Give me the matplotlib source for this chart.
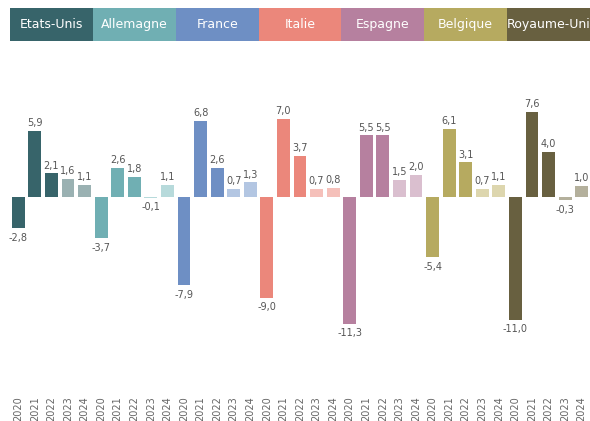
import matplotlib
matplotlib.use("Agg")
import matplotlib.pyplot as plt
from matplotlib.patches import Rectangle
import matplotlib.transforms as mtransforms

countries = ["Etats-Unis", "Allemagne", "France", "Italie", "Espagne", "Belgique", "Royaume-Uni"]
years = ["2020", "2021", "2022", "2023", "2024"]
values = {
    "Etats-Unis": [-2.8, 5.9, 2.1, 1.6, 1.1],
    "Allemagne": [-3.7, 2.6, 1.8, -0.1, 1.1],
    "France": [-7.9, 6.8, 2.6, 0.7, 1.3],
    "Italie": [-9.0, 7.0, 3.7, 0.7, 0.8],
    "Espagne": [-11.3, 5.5, 5.5, 1.5, 2.0],
    "Belgique": [-5.4, 6.1, 3.1, 0.7, 1.1],
    "Royaume-Uni": [-11.0, 7.6, 4.0, -0.3, 1.0],
}
dark_colors = ["#37646A", "#70AFB3", "#6E8FC4", "#EB877B", "#B6809F", "#B6AA60", "#686040"]
light_colors = ["#9AB1B2", "#B7DADB", "#B3C6E2", "#F5C0BA", "#DABFCF", "#DDD6AE", "#B4B09C"]

W, H = 590, 421
fig = plt.figure(figsize=(W / 100, H / 100), dpi=100)
ax_left, ax_right = 10, 590
ax_top, ax_bot = 50, 392
ax = fig.add_axes([ax_left / W, (H - ax_bot) / H, (ax_right - ax_left) / W, (ax_bot - ax_top) / H])

ppu = 11.2
zero_y = 197
ax.set_ylim(-(ax_bot - zero_y) / ppu, (zero_y - ax_top) / ppu)
n = len(countries) * len(years)
ax.set_xlim(-0.5, n - 0.5)

xs, hs, cs, labels = [], [], [], []
for ci, c in enumerate(countries):
    for yi, y in enumerate(years):
        xs.append(ci * 5 + yi)
        hs.append(values[c][yi])
        cs.append(dark_colors[ci] if yi < 3 else light_colors[ci])
        labels.append(y)

ax.bar(xs, hs, width=0.78, color=cs, linewidth=0)
for x, h in zip(xs, hs):
    txt = f"{h:.1f}".replace(".", ",")
    if h >= 0:
        ax.annotate(txt, (x, h), xytext=(0, 2), textcoords="offset points",
                    ha="center", va="bottom", fontsize=7, color="#555555")
    else:
        ax.annotate(txt, (x, h), xytext=(0, -3), textcoords="offset points",
                    ha="center", va="top", fontsize=7, color="#555555")

ax.set_xticks(xs)
ax.set_xticklabels(labels, rotation=90, fontsize=7, color="#666666")
ax.tick_params(axis="x", length=0, pad=3)
ax.set_yticks([])
for s in ax.spines.values():
    s.set_visible(False)

# header boxes
trans = mtransforms.blended_transform_factory(ax.transData, fig.transFigure)
hb_top, hb_bot = 8, 41
for ci, c in enumerate(countries):
    x0 = ci * 5 - 0.5
    rect = Rectangle((x0, (H - hb_bot) / H), 5, (hb_bot - hb_top) / H,
                     transform=trans, facecolor=dark_colors[ci], clip_on=False,
                     linewidth=0, zorder=5)
    ax.add_patch(rect)
    ax.text(x0 + 2.5, (H - (hb_top + hb_bot) / 2) / H, c, transform=trans,
            ha="center", va="center", fontsize=9, color="white", clip_on=False,
            zorder=6)

fig.savefig("out.png", dpi=100)
